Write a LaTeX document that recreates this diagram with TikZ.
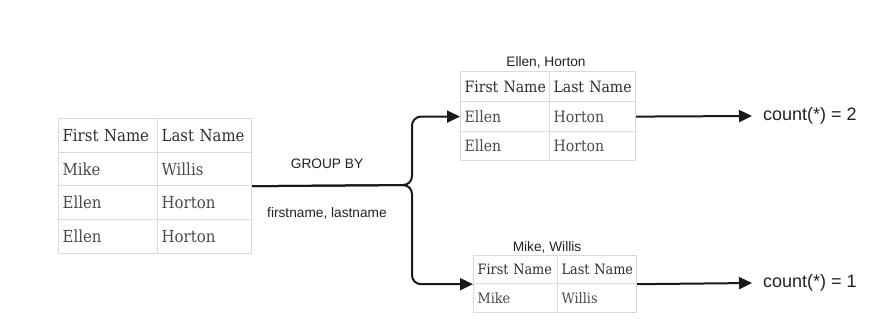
\documentclass[tikz,border=0pt]{standalone}
\usepackage{fontspec}
\newfontfamily\tabfont{DejaVu Serif Condensed}
\newfontfamily\lblfont{Liberation Sans}
\definecolor{cellgray}{HTML}{DADADA}
\definecolor{headtext}{HTML}{2E2E2E}
\definecolor{celltext}{HTML}{4A4A4A}
\definecolor{lbltext}{HTML}{222222}
\usetikzlibrary{arrows.meta, positioning}
\newcommand{\tabcell}[7][]
{
	\pgfmathsetmacro{\cellw}{#5-8}
	\node[cell, #1, text width=\cellw pt, minimum height=#6pt] (#2) at (#3, #4) {\mbox{#7}};
}

\begin{document}
\begin{tikzpicture}[x=1pt, y=-1pt,
cell/.style={draw=cellgray, line width=1.2pt, anchor=north west, inner xsep=4pt, inner ysep=0pt, align=left, text=celltext},
head/.style={text=headtext},
lefttab/.style={font=\tabfont\fontsize{16.6}{19}\selectfont},
toptab/.style={font=\tabfont\fontsize{15.6}{18}\selectfont},
bottab/.style={font=\tabfont\fontsize{14.3}{17}\selectfont},
grplbl/.style={font=\lblfont\fontsize{13.7}{16}\selectfont, text=lbltext, inner sep=0pt},
countlbl/.style={font=\lblfont\fontsize{18}{21}\selectfont, text=lbltext, anchor=west, inner xsep=11pt, inner ysep=0pt},
flow/.style={line width=2pt, draw=black!90, -{Triangle[length=13pt, width=12pt]}, rounded corners=9pt}]

\useasboundingbox (0,0) rectangle (881,328);

% source table
\begin{scope}[every node/.append style={lefttab}]
\tabcell[head]{Lh1}{58}{118}{99}{34}{First Name}
\tabcell[head]{Lh2}{157}{118}{94}{34}{Last Name}
\tabcell{L11}{58}{152}{99}{33}{Mike}
\tabcell{L12}{157}{152}{94}{33}{Willis}
\tabcell{L21}{58}{185}{99}{34}{Ellen}
\tabcell{L22}{157}{185}{94}{34}{Horton}
\tabcell{L31}{58}{219}{99}{34}{Ellen}
\tabcell{L32}{157}{219}{94}{34}{Horton}
\end{scope}

% group Ellen, Horton
\begin{scope}[every node/.append style={toptab}]
\tabcell[head]{Th1}{460}{71}{89}{30}{First Name}
\tabcell[head]{Th2}{549}{71}{86}{30}{Last Name}
\tabcell{T11}{460}{101}{89}{30}{Ellen}
\tabcell{T12}{549}{101}{86}{30}{Horton}
\tabcell{T21}{460}{131}{89}{29}{Ellen}
\tabcell{T22}{549}{131}{86}{29}{Horton}
\end{scope}

% group Mike, Willis
\begin{scope}[every node/.append style={bottab}]
\tabcell[head]{Bh1}{473}{255}{84}{28}{First Name}
\tabcell[head]{Bh2}{557}{255}{79}{28}{Last Name}
\tabcell{B11}{473}{283}{84}{29}{Mike}
\tabcell{B12}{557}{283}{79}{29}{Willis}
\end{scope}

\node[grplbl] at (327, 164) (GB){GROUP BY};
\node[grplbl] at (327, 213) (GK){firstname, lastname};
\node[grplbl] at (546, 62) (G1){Ellen, Horton};
\node[grplbl] at (547, 247) (G2){Mike, Willis};

\node[countlbl] at (752, 116) (C1){count(*) = 2};
\node[countlbl] at (752, 283) (C2){count(*) = 1};

\coordinate (fork) at (412, 185);
\draw[flow] (L12.south east) -- (fork) |- (T11.west);
\draw[flow] (L12.south east) -- (fork) |- (Bh1.south west);
\draw[flow] (T12.east) -- (C1.west);
\draw[flow] (Bh2.south east) -- (C2.west);
\end{tikzpicture}
\end{document}
